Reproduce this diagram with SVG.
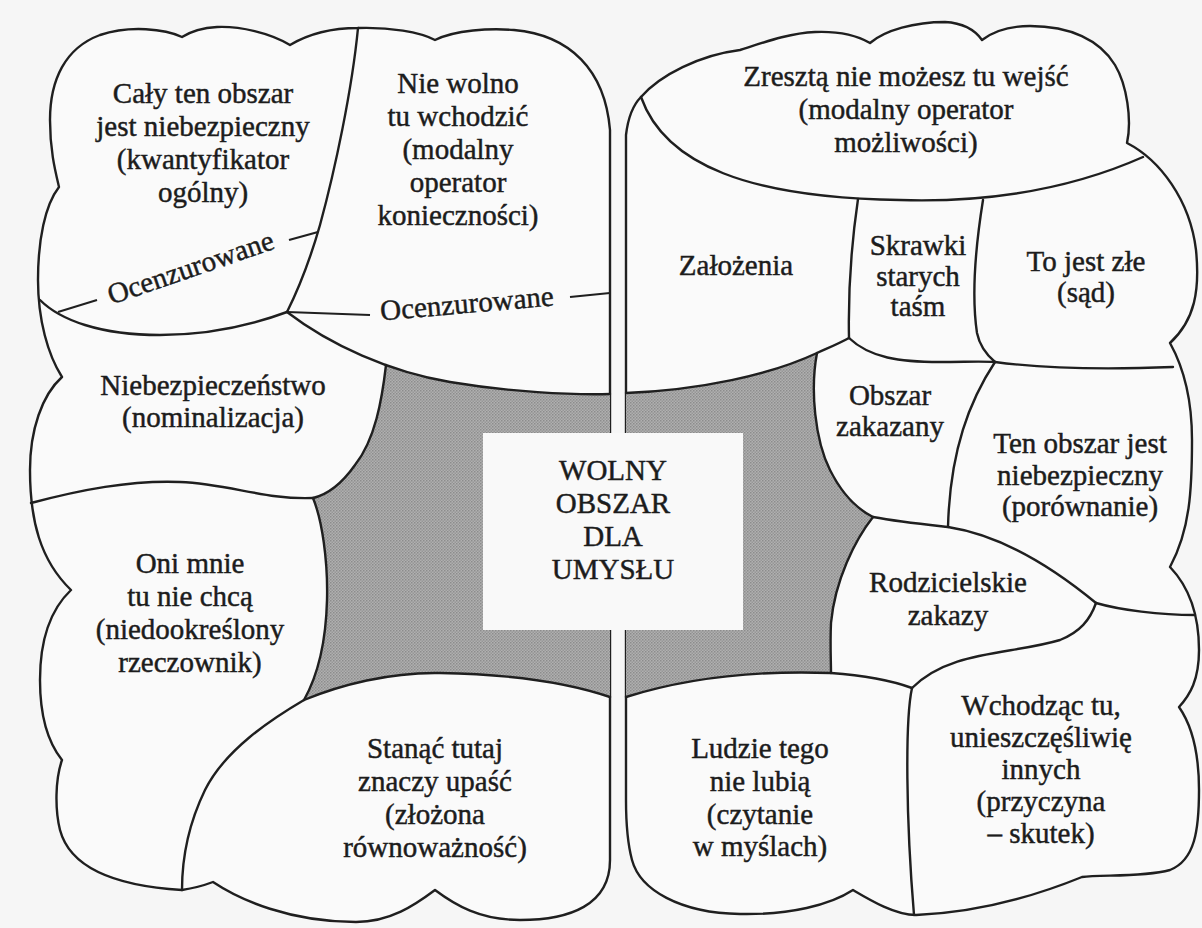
<svg xmlns="http://www.w3.org/2000/svg" width="1202" height="928" viewBox="0 0 1202 928">
  <defs>
    <pattern id="halftone" width="3" height="3" patternUnits="userSpaceOnUse">
      <rect width="3" height="3" fill="#b0b0b0"/>
      <rect width="1.5" height="1.5" fill="#8c8c8c"/>
      <rect x="1.5" y="1.5" width="1.5" height="1.5" fill="#979797"/>
    </pattern>
    <style>
      .page { fill: #f6f6f6; }
      .cloud { fill: #fafafa; stroke: #1f1f1f; stroke-width: 2.4; stroke-linejoin: round; }
      .edge { fill: none; stroke: #1f1f1f; stroke-width: 2.4; stroke-linecap: round; }
      .lead { fill: none; stroke: #1f1f1f; stroke-width: 2.2; }
      .shade { fill: url(#halftone); }
      .lbl { font-size: 29px; fill: #1c1c1c; stroke: #1c1c1c; stroke-width: 0.45; text-anchor: middle; }
    </style>
  </defs>

  <rect class="page" x="0" y="0" width="1202" height="928"/>

  <!-- outer cloud outlines -->
  <g id="clouds">
    <path id="left-cloud" class="cloud" d="M610,130 C605,70 570,35 514,30 C490,28 455,30 435,40 C420,32 390,27 358,28 C335,28 310,33 290,45 C270,33 240,26 217,27 C200,28 190,32 182,37 C165,29 130,25 100,35 C65,48 50,80 50,120 C50,150 55,170 59,187 C45,205 38,240 38,280 C38,320 48,355 62,377 C42,395 30,430 30,470 C30,520 40,560 71,590 C50,610 40,640 40,680 C40,720 50,745 62,760 C55,780 55,810 60,830 C68,860 100,885 182,890 C195,888 205,885 213,882 C240,900 290,922 356,922 C390,922 415,905 435,890 C455,905 480,920 520,920 C570,920 610,905 610,860 Z"/>
    <path id="right-cloud" class="cloud" d="M626,800 L626,135 C628,118 633,105 641,97 C660,75 700,55 740,50 C765,42 790,33 815,32 C840,31 858,36 870,43 C885,30 915,22 945,22 C962,23 975,30 982,40 C995,30 1010,26 1030,26 C1070,26 1100,40 1115,65 C1127,85 1132,120 1127,143 C1160,160 1190,200 1196,250 C1200,290 1195,320 1170,343 C1185,370 1192,400 1192,440 C1192,490 1190,530 1170,567 C1192,590 1199,620 1199,650 C1199,680 1190,695 1179,707 C1195,730 1199,760 1199,790 C1199,830 1195,860 1170,870 C1140,878 1100,874 1082,877 C1050,890 990,912 916,915 C895,915 870,900 853,890 C830,905 790,915 740,914 C680,913 640,890 632,860 C628,845 626,830 626,800 Z"/>
  </g>

  <!-- shaded free area between the two clouds -->
  <g id="shaded-area">
    <path class="shade" d="M386,365 C410,376 430,379 450,382 C510,392 570,395 610,394 L610,697 C560,680 500,674 440,673 C390,672 340,685 304,700 C318,675 326,640 327,600 C328,560 322,520 313,498 C330,494 343,482 355,465 C375,440 382,400 386,365 Z"/>
    <path class="shade" d="M626,393 C700,390 770,375 817,353 C810,390 815,440 830,470 C840,490 855,508 873,517 C855,540 835,580 831,623 C830,645 831,660 831,673 C750,670 680,680 626,697 Z"/>
  </g>

  <!-- region borders and label leaders -->
  <g id="connectors">
    <path class="edge" d="M358,28 C352,90 335,170 320,225 C310,260 298,290 287,312"/>
    <path class="edge" d="M40,300 C60,320 100,335 160,335 C215,335 260,322 287,312"/>
    <path class="edge" d="M287,312 C330,345 390,372 450,382 C510,392 570,395 610,394"/>
    <path class="edge" d="M386,365 C382,400 375,440 355,465 C343,482 330,494 313,498"/>
    <path class="edge" d="M31,503 C80,490 130,480 180,482 C230,484 265,500 313,498"/>
    <path class="edge" d="M313,498 C322,520 328,560 327,600 C326,640 318,675 304,700"/>
    <path class="edge" d="M304,700 C270,720 225,750 205,790 C188,825 182,860 182,890"/>
    <path class="edge" d="M304,700 C340,685 390,672 440,673 C500,674 560,680 610,697"/>

    <path class="edge" d="M641,97 C665,165 750,198 900,200 C1000,203 1080,185 1143,157"/>
    <path class="edge" d="M858,199 C852,240 848,290 849,338"/>
    <path class="edge" d="M983,200 C975,250 972,300 977,333 C980,348 988,356 995,362"/>
    <path class="edge" d="M849,338 C870,358 900,362 940,362 C965,362 980,361 995,362"/>
    <path class="edge" d="M626,393 C700,390 770,375 817,353 C828,348 838,344 849,338"/>
    <path class="edge" d="M817,353 C810,390 815,440 830,470 C840,490 855,508 873,517"/>
    <path class="edge" d="M995,362 C970,400 950,450 948,527"/>
    <path class="edge" d="M995,362 C1040,368 1100,370 1173,367"/>
    <path class="edge" d="M873,517 C900,522 930,525 948,527 C1000,535 1050,565 1096,603"/>
    <path class="edge" d="M1096,603 C1120,610 1160,615 1195,615"/>
    <path class="edge" d="M873,517 C855,540 835,580 831,623 C830,645 831,660 831,673"/>
    <path class="edge" d="M1096,603 C1090,620 1080,632 1060,640 C1010,655 950,650 912,688"/>
    <path class="edge" d="M626,697 C680,680 750,670 831,673 C860,675 890,680 912,688"/>
    <path class="edge" d="M912,688 C905,720 906,820 914,915"/>

    <path class="lead" d="M58,312 L97,300"/>
    <path class="lead" d="M289,240 L318,232"/>
    <path class="lead" d="M287,312 L370,315"/>
    <path class="lead" d="M570,297 L610,293"/>
  </g>

  <g font-family="'Liberation Serif', 'DejaVu Serif', 'Times New Roman', serif">
  <!-- central free space -->
  <g id="free-space">
    <rect x="483" y="433" width="260" height="197" fill="#f9f9f9"/>
    <text class="lbl" x="613" y="480">WOLNY</text>
    <text class="lbl" x="613" y="513">OBSZAR</text>
    <text class="lbl" x="613" y="546">DLA</text>
    <text class="lbl" x="613" y="579">UMYSŁU</text>
  </g>

  <!-- left cloud regions -->
  <g id="caly-obszar">
    <text class="lbl" x="203" y="103">Cały ten obszar</text>
    <text class="lbl" x="203" y="136">jest niebezpieczny</text>
    <text class="lbl" x="203" y="169">(kwantyfikator</text>
    <text class="lbl" x="203" y="202">ogólny)</text>
  </g>
  <g id="nie-wolno">
    <text class="lbl" x="458" y="93">Nie wolno</text>
    <text class="lbl" x="458" y="126">tu wchodzić</text>
    <text class="lbl" x="458" y="159">(modalny</text>
    <text class="lbl" x="458" y="192">operator</text>
    <text class="lbl" x="458" y="225">konieczności)</text>
  </g>
  <g id="ocenzurowane-1">
    <text class="lbl" transform="translate(191,269) rotate(-19)" x="0" y="8">Ocenzurowane</text>
  </g>
  <g id="ocenzurowane-2">
    <text class="lbl" transform="translate(467,305) rotate(-5)" x="0" y="8">Ocenzurowane</text>
  </g>
  <g id="niebezpieczenstwo">
    <text class="lbl" x="213" y="395">Niebezpieczeństwo</text>
    <text class="lbl" x="213" y="427">(nominalizacja)</text>
  </g>
  <g id="oni-mnie">
    <text class="lbl" x="190" y="573">Oni mnie</text>
    <text class="lbl" x="190" y="606">tu nie chcą</text>
    <text class="lbl" x="190" y="639">(niedookreślony</text>
    <text class="lbl" x="190" y="672">rzeczownik)</text>
  </g>
  <g id="stanac-tutaj">
    <text class="lbl" x="435" y="758">Stanąć tutaj</text>
    <text class="lbl" x="435" y="791">znaczy upaść</text>
    <text class="lbl" x="435" y="824">(złożona</text>
    <text class="lbl" x="435" y="857">równoważność)</text>
  </g>

  <!-- right cloud regions -->
  <g id="zreszta">
    <text class="lbl" x="906" y="86">Zresztą nie możesz tu wejść</text>
    <text class="lbl" x="906" y="119">(modalny operator</text>
    <text class="lbl" x="906" y="152">możliwości)</text>
  </g>
  <g id="zalozenia">
    <text class="lbl" x="736" y="275">Założenia</text>
  </g>
  <g id="skrawki">
    <text class="lbl" x="918" y="255">Skrawki</text>
    <text class="lbl" x="918" y="286">starych</text>
    <text class="lbl" x="918" y="316">taśm</text>
  </g>
  <g id="to-jest-zle">
    <text class="lbl" x="1086" y="271">To jest złe</text>
    <text class="lbl" x="1086" y="302">(sąd)</text>
  </g>
  <g id="obszar-zakazany">
    <text class="lbl" x="890" y="405">Obszar</text>
    <text class="lbl" x="890" y="436">zakazany</text>
  </g>
  <g id="ten-obszar">
    <text class="lbl" x="1080" y="453">Ten obszar jest</text>
    <text class="lbl" x="1080" y="485">niebezpieczny</text>
    <text class="lbl" x="1080" y="516">(porównanie)</text>
  </g>
  <g id="rodzicielskie">
    <text class="lbl" x="948" y="592">Rodzicielskie</text>
    <text class="lbl" x="948" y="625">zakazy</text>
  </g>
  <g id="ludzie">
    <text class="lbl" x="760" y="758">Ludzie tego</text>
    <text class="lbl" x="760" y="791">nie lubią</text>
    <text class="lbl" x="760" y="824">(czytanie</text>
    <text class="lbl" x="760" y="856">w myślach)</text>
  </g>
  <g id="wchodzac">
    <text class="lbl" x="1041" y="715">Wchodząc tu,</text>
    <text class="lbl" x="1041" y="747">unieszczęśliwię</text>
    <text class="lbl" x="1041" y="779">innych</text>
    <text class="lbl" x="1041" y="811">(przyczyna</text>
    <text class="lbl" x="1041" y="843">– skutek)</text>
  </g>
  </g>
</svg>
